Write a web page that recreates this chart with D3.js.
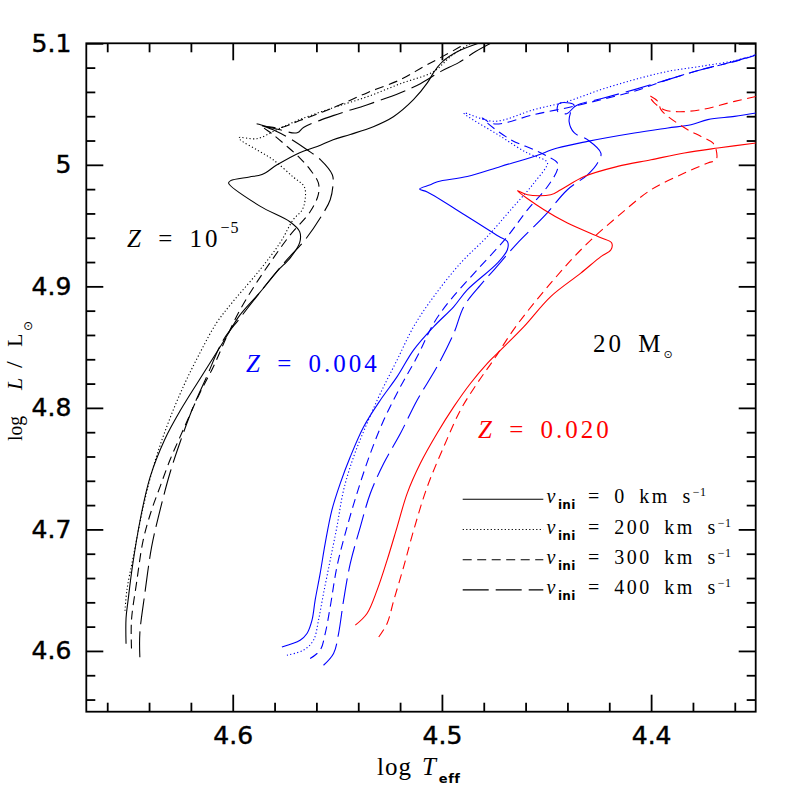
<!DOCTYPE html>
<html>
<head>
<meta charset="utf-8">
<script src="https://cdn.jsdelivr.net/npm/d3@7"></script>
<style>
  body { margin: 0; background: #fff; }
  svg { display: block; }
</style>
</head>
<body>
<script>
// 20 Msun tracks, [log Teff, log L/Lsun]
const z5v0 = [[4.651,4.606],[4.651,4.627],[4.650,4.642],[4.648,4.669],[4.644,4.710],[4.6395,4.743],[4.6325,4.774],[4.625,4.798],[4.616,4.823],[4.605,4.853],[4.5965,4.8765],[4.587,4.895],[4.579,4.912],[4.5725,4.9235],[4.568,4.936],[4.568,4.945],[4.5725,4.953],[4.587,4.966],[4.602,4.985],[4.601,4.987],[4.592,4.990],[4.586,4.992],[4.5788,5.000],[4.568,5.010],[4.5596,5.015],[4.552,5.0207],[4.5438,5.025],[4.5328,5.0314],[4.5232,5.0396],[4.5136,5.0536],[4.5069,5.0676],[4.504,5.0759],[4.4997,5.0849],[4.4925,5.0932],[4.4825,5.1]];
const z5v200 = [[4.6515,4.633],[4.6506,4.650],[4.6476,4.677],[4.6428,4.7184],[4.638,4.7513],[4.6316,4.7843],[4.6237,4.8172],[4.6157,4.8452],[4.6077,4.870],[4.600,4.8872],[4.587,4.9136],[4.5773,4.936],[4.5711,4.9548],[4.5668,4.963],[4.5654,4.9713],[4.5658,4.982],[4.5711,4.990],[4.5807,5.0042],[4.5885,5.0124],[4.5965,5.0207],[4.597,5.0224],[4.5885,5.0215],[4.5789,5.0289],[4.568,5.0372],[4.552,5.047],[4.5356,5.0561],[4.5198,5.0668],[4.504,5.0767],[4.4959,5.089],[4.4863,5.1]];
const z5v300 = [[4.6484,4.602],[4.6484,4.6253],[4.646,4.6558],[4.6428,4.6912],[4.6388,4.7159],[4.6348,4.7348],[4.630,4.7571],[4.6237,4.7818],[4.6157,4.8123],[4.6093,4.8337],[4.6029,4.8584],[4.5965,4.8806],[4.5893,4.9012],[4.5812,4.9218],[4.5725,4.9424],[4.563,4.9614],[4.5591,4.9754],[4.5591,4.9853],[4.563,4.996],[4.568,5.0058],[4.575,5.0166],[4.5812,5.0256],[4.5855,5.0314],[4.5773,5.0306],[4.568,5.0364],[4.552,5.047],[4.5356,5.0594],[4.5198,5.0701],[4.5088,5.0808],[4.5007,5.0882],[4.4911,5.0973],[4.4887,5.1]];
const z5v400 = [[4.6444,4.5948],[4.6444,4.6146],[4.642,4.6475],[4.6388,4.6854],[4.6356,4.710],[4.630,4.7464],[4.6253,4.7711],[4.6189,4.8007],[4.6125,4.8255],[4.6045,4.8559],[4.5965,4.874],[4.586,4.8971],[4.575,4.9202],[4.5654,4.9383],[4.5572,4.9589],[4.5534,4.9713],[4.552,4.9853],[4.5524,4.9918],[4.5581,5.0042],[4.5645,5.0124],[4.5725,5.0215],[4.5797,5.0281],[4.5888,5.0339],[4.578,5.029],[4.5692,5.0264],[4.566,5.031],[4.552,5.0405],[4.5356,5.0495],[4.5198,5.0594],[4.5103,5.0668],[4.5007,5.0767],[4.492,5.0841],[4.4839,5.0932],[4.4767,5.1]];

const z004v0 = [[4.5765,4.6033],[4.5678,4.6088],[4.5645,4.6143],[4.5621,4.6253],[4.5606,4.6418],[4.5582,4.6638],[4.5558,4.6885],[4.5526,4.7159],[4.5486,4.7379],[4.5438,4.7598],[4.5374,4.7845],[4.5294,4.8065],[4.5214,4.8257],[4.5135,4.8477],[4.5039,4.8669],[4.4943,4.8834],[4.4879,4.8971],[4.4735,4.9191],[4.4687,4.9301],[4.4687,4.9369],[4.4727,4.9410],[4.4879,4.9575],[4.507,4.9776],[4.5107,4.9801],[4.5055,4.9836],[4.5021,4.9861],[4.4879,4.9904],[4.4719,4.9987],[4.456,5.0069],[4.4448,5.0138],[4.4304,5.0193],[4.408,5.0262],[4.392,5.0303],[4.3809,5.033],[4.3729,5.0372],[4.3601,5.0399],[4.3497,5.0427]];
const z004v200 = [[4.5741,4.5965],[4.5662,4.6006],[4.5614,4.6088],[4.559,4.6253],[4.5566,4.6473],[4.5534,4.6747],[4.5502,4.7021],[4.547,4.7324],[4.5422,4.7598],[4.5358,4.7873],[4.5294,4.812],[4.5214,4.8395],[4.5135,4.8669],[4.5039,4.8916],[4.4911,4.9191],[4.4783,4.941],[4.4671,4.963],[4.456,4.985],[4.4495,5.0015],[4.4512,5.0042],[4.4591,5.0097],[4.4719,5.0234],[4.4895,5.0427],[4.4751,5.0358],[4.456,5.0454],[4.44,5.0522],[4.424,5.0619],[4.408,5.0701],[4.392,5.0769],[4.3761,5.0811],[4.3601,5.0857],[4.3497,5.0907]];
const z004v300 = [[4.563,4.5937],[4.5582,4.6006],[4.5558,4.6143],[4.5534,4.6362],[4.5502,4.6692],[4.5462,4.6967],[4.5406,4.7297],[4.5342,4.7626],[4.5278,4.79],[4.5198,4.8175],[4.5118,4.8422],[4.5039,4.8697],[4.4959,4.8889],[4.4831,4.9136],[4.4687,4.941],[4.4591,4.963],[4.4495,4.9822],[4.4448,4.996],[4.4448,5.0015],[4.4495,5.0069],[4.456,5.0124],[4.4671,5.0207],[4.4783,5.0344],[4.4807,5.0386],[4.4767,5.0344],[4.4719,5.0338],[4.4561,5.0413],[4.44,5.047],[4.424,5.0536],[4.4082,5.0605],[4.392,5.0701],[4.3761,5.0783],[4.3603,5.0849],[4.3497,5.0903]];
const z004v400 = [[4.5566,4.5882],[4.5518,4.5979],[4.5494,4.6143],[4.547,4.6418],[4.5438,4.672],[4.539,4.7021],[4.5342,4.7297],[4.5278,4.7544],[4.5198,4.7791],[4.5118,4.8065],[4.5023,4.8339],[4.4943,4.8615],[4.4895,4.8834],[4.4815,4.9012],[4.4751,4.9136],[4.4639,4.9356],[4.4512,4.9575],[4.44,4.9795],[4.4304,4.9918],[4.4256,5.0015],[4.424,5.0097],[4.4304,5.0207],[4.4368,5.0264],[4.4392,5.0355],[4.4384,5.0437],[4.4369,5.0495],[4.4441,5.0503],[4.4446,5.0437],[4.4403,5.0421],[4.4359,5.0487],[4.424,5.0544],[4.408,5.0619],[4.392,5.0701],[4.3761,5.0783],[4.3601,5.0852],[4.3497,5.0907]];

const z020v0 = [[4.5414,4.6212],[4.5358,4.6308],[4.531,4.65],[4.5262,4.6747],[4.5214,4.7021],[4.5166,4.7297],[4.5103,4.7544],[4.5023,4.7791],[4.4943,4.801],[4.4863,4.8203],[4.4783,4.8367],[4.4727,4.8463],[4.4608,4.8669],[4.448,4.8916],[4.4336,4.9109],[4.424,4.9245],[4.4192,4.9301],[4.4189,4.9358],[4.424,4.94],[4.44,4.9521],[4.4512,4.963],[4.4639,4.9787],[4.4591,4.9754],[4.448,4.9754],[4.4432,4.9795],[4.432,4.9904],[4.416,4.9987],[4.4,5.0042],[4.3841,5.0097],[4.3681,5.0138],[4.3497,5.018]];
const z020v300 = [[4.5302,4.6115],[4.5262,4.6226],[4.523,4.6418],[4.5183,4.6692],[4.5135,4.6994],[4.507,4.7351],[4.4991,4.768],[4.4911,4.7983],[4.4831,4.8203],[4.4753,4.8395],[4.4647,4.8669],[4.448,4.9026],[4.432,4.9328],[4.416,4.9575],[4.4,4.9795],[4.3841,4.9932],[4.3729,5.0015],[4.3689,5.0042],[4.3689,5.0124],[4.3705,5.018],[4.3761,5.0234],[4.3825,5.0289],[4.392,5.0399],[4.3953,5.0454],[4.3968,5.0522],[4.4,5.0563],[4.401,5.0569],[4.3986,5.0512],[4.3938,5.0454],[4.3871,5.0437],[4.3761,5.0454],[4.3601,5.0522],[4.3497,5.0563]];

const velocities = [0, 200, 300, 400];
const xTicks = [4.6, 4.5, 4.4];
const yTicks = [4.6, 4.7, 4.8, 4.9, 5.0, 5.1];

const tracks = [
  { pts: z5v0, color: "#000", v: 0 },
  { pts: z5v200, color: "#000", v: 200 },
  { pts: z5v300, color: "#000", v: 300 },
  { pts: z5v400, color: "#000", v: 400 },
  { pts: z004v0, color: "#0000ff", v: 0 },
  { pts: z004v200, color: "#0000ff", v: 200 },
  { pts: z004v300, color: "#0000ff", v: 300 },
  { pts: z004v400, color: "#0000ff", v: 400 },
  { pts: z020v0, color: "#ff0000", v: 0 },
  { pts: z020v300, color: "#ff0000", v: 300 }
];
const dash = { 0: null, 200: "1.2,2.3", 300: "9,5.5", 400: "26,7" };

const W = 797, H = 797;
const box = { left: 86.3, right: 755.7, top: 43.3, bottom: 711.7 };

const x = d3.scaleLinear().domain([4.67, 4.35]).range([box.left, box.right]);
const y = d3.scaleLinear().domain([4.55, 5.1]).range([box.bottom, box.top]);

const svg = d3.select("body").append("svg").attr("width", W).attr("height", H);

svg.append("defs").append("clipPath").attr("id", "plot")
  .append("rect").attr("x", box.left).attr("y", box.top)
  .attr("width", box.right - box.left).attr("height", box.bottom - box.top);

const notTenth = v => Math.abs(v * 10 - Math.round(v * 10)) > 1e-6;
const xMinor = d3.range(4.36, 4.67, 0.02).filter(notTenth);
const yMinor = d3.range(4.56, 5.1, 0.02).filter(notTenth);
const fmt = d => String(+d.toFixed(1));

function axis(gen, tr, vals, size, f) {
  const g = svg.append("g").attr("transform", tr)
    .call(gen.tickValues(vals).tickSize(size).tickSizeOuter(0).tickPadding(15).tickFormat(f));
  g.select(".domain").remove();
  g.attr("font-family", "DejaVu Sans").attr("font-size", 25);
  g.selectAll("line").attr("stroke", "#000").attr("stroke-width", 1.8);
  g.selectAll("text").attr("fill", "#000").attr("stroke", "#000").attr("stroke-width", 0.45);
}
axis(d3.axisBottom(x), `translate(0,${box.bottom})`, xTicks, -17, fmt);
axis(d3.axisBottom(x), `translate(0,${box.bottom})`, xMinor, -9, "");
axis(d3.axisTop(x), `translate(0,${box.top})`, xTicks, -17, "");
axis(d3.axisTop(x), `translate(0,${box.top})`, xMinor, -9, "");
axis(d3.axisLeft(y), `translate(${box.left},0)`, yTicks, -17, fmt);
axis(d3.axisLeft(y), `translate(${box.left},0)`, yMinor, -9, "");
axis(d3.axisRight(y), `translate(${box.right},0)`, yTicks, -17, "");
axis(d3.axisRight(y), `translate(${box.right},0)`, yMinor, -9, "");

svg.append("rect").attr("x", box.left).attr("y", box.top)
  .attr("width", box.right - box.left).attr("height", box.bottom - box.top)
  .attr("fill", "none").attr("stroke", "#000").attr("stroke-width", 1.8);

const line = d3.line().x(d => x(d[0])).y(d => y(d[1])).curve(d3.curveCatmullRom.alpha(0.5));

svg.append("g").attr("clip-path", "url(#plot)")
  .selectAll("path").data(tracks).join("path")
  .attr("d", d => line(d.pts))
  .attr("fill", "none")
  .attr("stroke", d => d.color)
  .attr("stroke-width", 1.1)
  .attr("stroke-dasharray", d => dash[d.v]);

// axis titles
const serif = "Liberation Serif";
const xt = svg.append("text").attr("x", 377).attr("y", 775)
  .attr("font-family", serif).attr("font-size", 25).attr("letter-spacing", 1);
xt.append("tspan").text("log");
xt.append("tspan").attr("dx", 10).attr("font-style", "italic").text("T");
xt.append("tspan").attr("dx", 2).attr("dy", 8).attr("font-family", "DejaVu Sans")
  .attr("font-weight", "bold").attr("font-size", 13).attr("letter-spacing", 0.5).text("eff");

const yt = svg.append("g").attr("transform", "translate(22,441) rotate(-90)")
  .attr("font-family", serif).attr("font-size", 22);
yt.append("text").attr("x", 0).attr("textLength", 25).attr("lengthAdjust", "spacingAndGlyphs").text("log");
yt.append("text").attr("x", 51).attr("font-style", "italic").text("L");
yt.append("text").attr("x", 73).attr("font-size", 24).text("/");
yt.append("text").attr("x", 94).text("L");
yt.append("text").attr("x", 110).attr("y", 10).attr("font-family", "DejaVu Sans").attr("font-size", 12).text("\u2299");

// annotations
function zLabel(px, py, color, value, sup) {
  const t = svg.append("text").attr("x", px).attr("y", py)
    .attr("font-family", serif).attr("font-size", 25).attr("letter-spacing", 3)
    .attr("word-spacing", 5).attr("fill", color);
  t.append("tspan").attr("font-style", "italic").text("Z");
  t.append("tspan").text(" = " + value);
  if (sup) t.append("tspan").attr("dy", -14).attr("font-size", 16).attr("letter-spacing", 1).text(sup);
}
zLabel(127, 247, "#000", "10", "\u22125");
zLabel(246, 372, "#0000ff", "0.004");
zLabel(478, 438, "#ff0000", "0.020");

const mt = svg.append("text").attr("x", 593).attr("y", 352)
  .attr("font-family", serif).attr("font-size", 25).attr("letter-spacing", 3).attr("word-spacing", 5);
mt.append("tspan").text("20 M");
mt.append("tspan").attr("dy", 6).attr("font-family", "DejaVu Sans").attr("font-size", 11)
  .attr("letter-spacing", 0).text("\u2299");

// legend
const leg = svg.append("g");
velocities.forEach((v, i) => {
  const ly = 499.3 + i * 30.2;
  leg.append("line").attr("x1", 462.7).attr("x2", 543.3).attr("y1", ly).attr("y2", ly)
    .attr("stroke", "#000").attr("stroke-width", 1.1).attr("stroke-dasharray", dash[v]);
  const t = leg.append("text").attr("x", 546.5).attr("y", ly + 4)
    .attr("font-family", serif).attr("font-size", 20).attr("letter-spacing", 2.5).attr("word-spacing", 5);
  t.append("tspan").attr("font-style", "italic").text("v");
  t.append("tspan").attr("dy", 6).attr("font-family", "DejaVu Sans").attr("font-weight", "bold")
    .attr("font-size", 12).attr("letter-spacing", 0.3).text("ini");
  t.append("tspan").attr("dy", -6).text(` = ${v} km s`);
  t.append("tspan").attr("dy", -7).attr("font-size", 12).attr("letter-spacing", 0.5).text("\u22121");
});
</script>
</body>
</html>
